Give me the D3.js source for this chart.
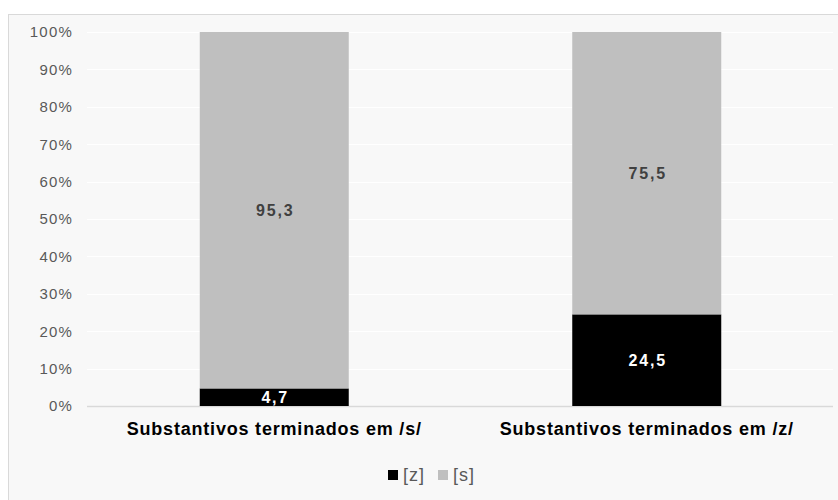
<!DOCTYPE html>
<html lang="pt">
<head>
<meta charset="utf-8">
<title>Substantivos terminados em /s/ e /z/</title>
<script src="https://d3js.org/d3.v7.min.js"></script>
<style>
  body { margin: 0; background: #ffffff; }
  svg { display: block; font-family: "Liberation Sans", Arial, sans-serif; }
</style>
</head>
<body>
<div id="chart"></div>
<script>
// Data
const categories = ["Substantivos terminados em /s/", "Substantivos terminados em /z/"];
const seriesNames = ["[z]", "[s]"];
const zValues = [4.7, 24.5];
const sValues = [95.3, 75.5];
const yTicks = [0, 10, 20, 30, 40, 50, 60, 70, 80, 90, 100];

const colors = { "[z]": "#000000", "[s]": "#bfbfbf" };
const labelColors = { "[z]": "#ffffff", "[s]": "#404040" };

const W = 838, H = 500;
const plot = { left: 88, right: 833, top: 32, bottom: 406 };

const svg = d3.select("#chart").append("svg")
  .attr("width", W).attr("height", H);

// Chart frame
svg.append("rect")
  .attr("x", 8.5).attr("y", 14.5)
  .attr("width", W).attr("height", H)
  .attr("fill", "#f8f8f8")
  .attr("stroke", "#d9d9d9");

const x = d3.scaleBand()
  .domain(categories)
  .range([plot.left, plot.right])
  .paddingInner(0.6)
  .paddingOuter(0.3);

const y = d3.scaleLinear()
  .domain([0, 100])
  .range([plot.bottom, plot.top]);

// Gridlines
svg.append("g")
  .selectAll("line")
  .data(yTicks)
  .join("line")
  .attr("x1", plot.left - 1).attr("x2", plot.right)
  .attr("y1", d => Math.round(y(d)) + 0.5)
  .attr("y2", d => Math.round(y(d)) + 0.5)
  .attr("stroke", d => d === 0 ? "#d9d9d9" : "#ffffff")
  .attr("stroke-width", d => d === 0 ? 1.5 : 1);

// Y axis
const yAxis = svg.append("g")
  .attr("transform", `translate(${plot.left - 15},0)`)
  .call(d3.axisLeft(y).tickValues(yTicks).tickSize(0).tickPadding(0).tickFormat(d => d + "%"));
yAxis.select(".domain").remove();
yAxis.selectAll("text")
  .style("font-family", "'Liberation Sans', Arial, sans-serif")
  .style("font-size", "15px")
  .style("letter-spacing", "1.2px")
  .attr("fill", "#595959");

// Stacked data
const rows = categories.map((c, i) => ({ cat: c, "[z]": zValues[i], "[s]": sValues[i] }));
const stacked = d3.stack().keys(seriesNames)(rows);

const layers = svg.append("g")
  .selectAll("g")
  .data(stacked)
  .join("g")
  .attr("fill", d => colors[d.key]);

layers.selectAll("rect")
  .data(d => d.map(p => ({ key: d.key, p })))
  .join("rect")
  .attr("x", d => x(d.p.data.cat))
  .attr("width", x.bandwidth())
  .attr("y", d => y(d.p[1]))
  .attr("height", d => y(d.p[0]) - y(d.p[1]));

// Data labels
layers.selectAll("text")
  .data(d => d.map(p => ({ key: d.key, p })))
  .join("text")
  .attr("x", d => x(d.p.data.cat) + x.bandwidth() / 2 + 1)
  .attr("y", d => (y(d.p[0]) + y(d.p[1])) / 2)
  .attr("dy", "0.36em")
  .attr("text-anchor", "middle")
  .attr("fill", d => labelColors[d.key])
  .style("font-size", "16px")
  .style("font-weight", "bold")
  .style("letter-spacing", "1.8px")
  .text(d => d3.format(".1f")(d.p[1] - d.p[0]).replace(".", ","));

// Category labels
svg.append("g")
  .selectAll("text")
  .data(categories)
  .join("text")
  .attr("x", d => x(d) + x.bandwidth() / 2)
  .attr("y", 435)
  .attr("text-anchor", "middle")
  .attr("fill", "#000000")
  .style("font-size", "18px")
  .style("font-weight", "bold")
  .style("letter-spacing", "0.8px")
  .text(d => d);

// Legend
const legend = svg.append("g").attr("transform", "translate(388,475)");
const legendX = [0, 50];
const items = legend.selectAll("g")
  .data(seriesNames)
  .join("g")
  .attr("transform", (d, i) => `translate(${legendX[i]},0)`);
items.append("rect")
  .attr("x", 0).attr("y", -5)
  .attr("width", 10).attr("height", 10)
  .attr("fill", d => colors[d]);
items.append("text")
  .attr("x", 15).attr("y", 0)
  .attr("dy", "0.36em")
  .attr("fill", "#595959")
  .style("font-size", "18px")
  .style("letter-spacing", "1px")
  .text(d => d);
</script>
</body>
</html>
